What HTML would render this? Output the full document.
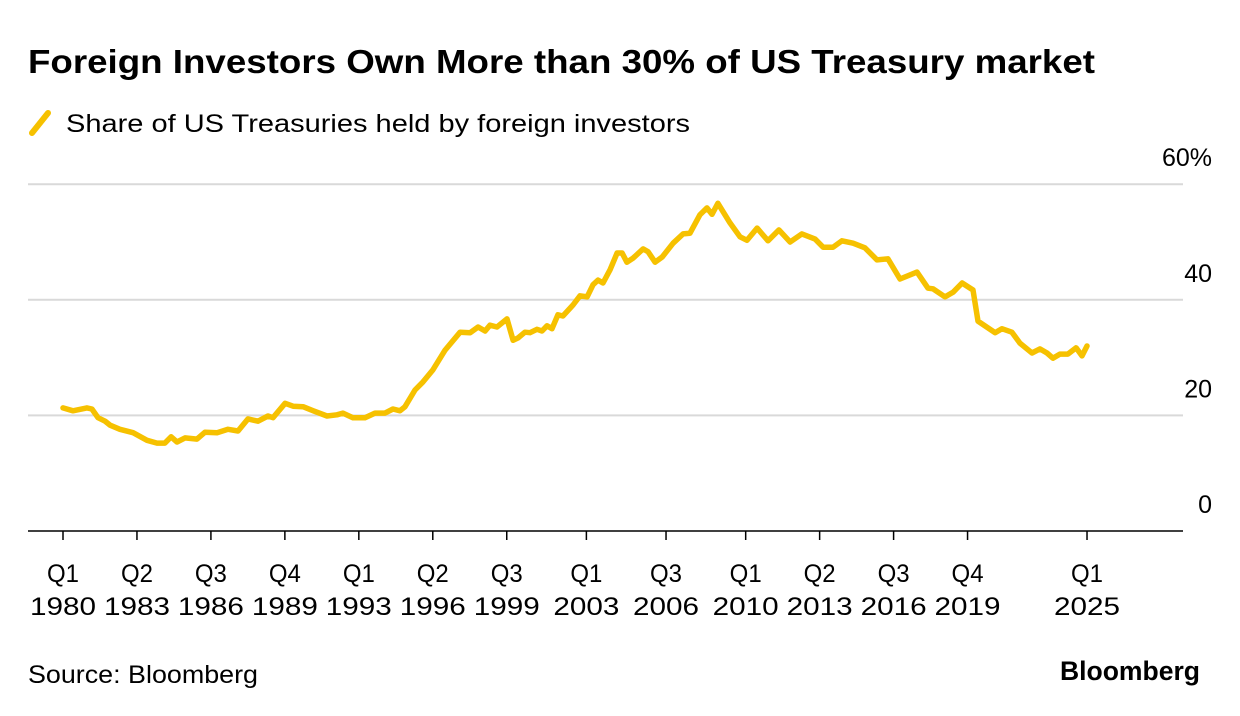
<!DOCTYPE html>
<html><head><meta charset="utf-8"><style>
body{margin:0;background:#fff;width:1240px;height:716px;overflow:hidden;font-family:"Liberation Sans",Arial,sans-serif;color:#000}
svg{position:absolute;left:0;top:0}
</style></head><body>
<svg width="1240" height="716">
<text x="28" y="73" font-size="33" font-weight="bold" textLength="1067" lengthAdjust="spacingAndGlyphs">Foreign Investors Own More than 30% of US Treasury market</text>
<line x1="32" y1="133" x2="48" y2="113" stroke="#f6c100" stroke-width="6" stroke-linecap="round"/>
<text x="66" y="132" font-size="25" textLength="624" lengthAdjust="spacingAndGlyphs">Share of US Treasuries held by foreign investors</text>
<g id="grid"></g><g id="xaxis"></g>
<polyline id="line" fill="none" stroke="#f6c100" stroke-width="5.5" stroke-linejoin="round" stroke-linecap="round"/>
<text x="28" y="683" font-size="25" textLength="230" lengthAdjust="spacingAndGlyphs">Source: Bloomberg</text>
<text x="1060" y="680" font-size="27" font-weight="bold" textLength="140" lengthAdjust="spacingAndGlyphs">Bloomberg</text>
</svg>
<script>
const dates=[1980.0,1980.44,1981.05,1981.27,1981.54,1981.85,1982.07,1982.5,1983.08,1983.69,1984.13,1984.48,1984.75,1985.01,1985.36,1985.89,1986.24,1986.77,1987.25,1987.69,1988.13,1988.57,1989.01,1989.23,1989.76,1990.11,1990.55,1991.0,1991.6,1992.04,1992.3,1992.74,1993.27,1993.71,1994.15,1994.5,1994.81,1995.03,1995.47,1995.82,1996.26,1996.79,1997.45,1997.89,1998.24,1998.55,1998.76,1999.07,1999.51,1999.78,2000.0,2000.3,2000.52,2000.83,2001.05,2001.27,2001.49,2001.75,2001.97,2002.41,2002.72,2003.03,2003.29,2003.51,2003.73,2004.04,2004.35,2004.57,2004.78,2005.05,2005.49,2005.71,2006.02,2006.33,2006.81,2007.25,2007.55,2007.99,2008.3,2008.52,2008.78,2009.31,2009.75,2010.06,2010.5,2010.98,2011.46,2011.95,2012.47,2013.05,2013.4,2013.84,2014.23,2014.72,2015.24,2015.77,2016.25,2016.78,2017.53,2018.01,2018.23,2018.76,2019.11,2019.51,2019.99,2020.21,2020.96,2021.26,2021.7,2022.05,2022.58,2022.93,2023.24,2023.5,2023.81,2024.16,2024.52,2024.78,2025.0];
const values=[21.3,20.8,21.3,21.1,19.6,19.0,18.3,17.6,17.0,15.7,15.2,15.2,16.3,15.4,16.1,15.9,17.1,17.0,17.6,17.3,19.4,19.0,19.9,19.6,22.1,21.6,21.5,20.8,19.9,20.1,20.4,19.6,19.6,20.4,20.4,21.1,20.8,21.5,24.4,25.8,27.9,31.3,34.4,34.3,35.3,34.6,35.6,35.3,36.7,33.0,33.4,34.4,34.3,34.9,34.6,35.5,35.0,37.4,37.2,39.1,40.7,40.5,42.6,43.4,42.9,45.2,48.1,48.1,46.5,47.2,48.8,48.3,46.5,47.4,49.8,51.4,51.5,54.7,55.9,54.8,56.7,53.3,50.9,50.3,52.4,50.2,52.1,50.0,51.4,50.5,49.1,49.1,50.2,49.8,49.0,46.9,47.1,43.6,44.8,42.0,41.9,40.5,41.3,42.9,41.7,36.3,34.3,35.0,34.4,32.5,30.8,31.5,30.8,29.9,30.6,30.6,31.7,30.3,32.0];
const yTicks=[0,20,40,60];
const yTickLabels=["0","20","40","60%"];
const xTicks=[1980,1983.25,1986.5,1989.75,1993,1996.25,1999.5,2003,2006.5,2010,2013.25,2016.5,2019.75,2025];
const xTickLabels=[["Q1","1980"],["Q2","1983"],["Q3","1986"],["Q4","1989"],["Q1","1993"],["Q2","1996"],["Q3","1999"],["Q1","2003"],["Q3","2006"],["Q1","2010"],["Q2","2013"],["Q3","2016"],["Q4","2019"],["Q1","2025"]];
const NS="http://www.w3.org/2000/svg";
const xs=d=>63+(d-1980)*22.756;
const ys=v=>531-v*5.78;
const grid=document.getElementById('grid'),xa=document.getElementById('xaxis');
yTicks.forEach((t,i)=>{
 if(t>0){const l=document.createElementNS(NS,'line');
 l.setAttribute('x1',28);l.setAttribute('x2',1183);l.setAttribute('y1',ys(t));l.setAttribute('y2',ys(t));
 l.setAttribute('stroke','#d9d9d9');l.setAttribute('stroke-width',2);
 
 
 grid.appendChild(l);}
 const tx=document.createElementNS(NS,'text');
 tx.setAttribute('x',1212);tx.setAttribute('y',ys(t)-18);tx.setAttribute('text-anchor','end');tx.setAttribute('font-size','25');
 tx.textContent=yTickLabels[i];
 
 
 grid.appendChild(tx);
});
const ax=document.createElementNS(NS,'line');
ax.setAttribute('x1',28);ax.setAttribute('x2',1183);ax.setAttribute('y1',531);ax.setAttribute('y2',531);ax.setAttribute('stroke','#000');ax.setAttribute('stroke-width',1.5);


xa.appendChild(ax);
xTicks.forEach((d,i)=>{
 const x=xs(d);
 const tk=document.createElementNS(NS,'line');
 tk.setAttribute('x1',x);tk.setAttribute('x2',x);tk.setAttribute('y1',531);tk.setAttribute('y2',540);tk.setAttribute('stroke','#000');tk.setAttribute('stroke-width',1.5);
 
 
 xa.appendChild(tk);
 xTickLabels[i].forEach((s,j)=>{
  const t=document.createElementNS(NS,'text');
  t.setAttribute('x',x);t.setAttribute('y',582+j*33);t.setAttribute('text-anchor','middle');t.setAttribute('font-size','25');
  t.setAttribute('textLength',j?66:32);t.setAttribute('lengthAdjust','spacingAndGlyphs');
  t.textContent=s;
  
  
  xa.appendChild(t);
 });
});
document.getElementById('line').setAttribute('points',dates.map((d,i)=>xs(d).toFixed(1)+','+ys(values[i]).toFixed(1)).join(' '));
</script>
</body></html>
